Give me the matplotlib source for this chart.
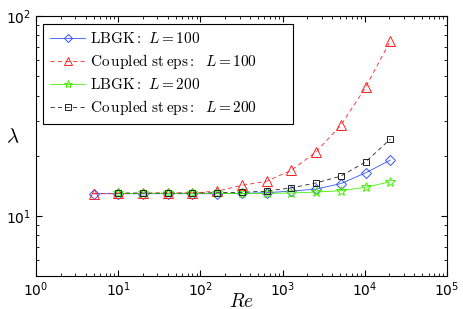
import numpy as np
import matplotlib.pyplot as plt

plt.rcParams['mathtext.fontset'] = 'cm'
plt.rcParams['font.family'] = 'DejaVu Sans'

# Reynolds numbers
re_5 = [5, 10, 20, 40, 80, 160, 320, 640, 1280, 2560, 5120, 10240, 20480]
re_10 = [10, 20, 40, 80, 160, 320, 640, 1280, 2560, 5120, 10240, 20480]

# lambda values
lbgk_100 = [12.9, 12.9, 12.9, 12.9, 12.9, 12.9, 12.95, 13.05, 13.3, 13.6, 14.5, 16.4, 19.0]
coupled_100 = [12.9, 12.95, 12.95, 13.0, 13.0, 13.3, 14.2, 14.9, 16.9, 20.9, 28.4, 43.9, 75.0]
lbgk_200 = [12.95, 12.95, 12.95, 12.95, 12.95, 12.95, 12.95, 13.0, 13.15, 13.35, 13.9, 14.8]
coupled_200 = [13.0, 13.0, 13.0, 13.0, 13.05, 13.1, 13.3, 13.8, 14.6, 15.8, 18.6, 24.2]

fig = plt.figure(figsize=(4.63, 3.09), dpi=100)
ax = fig.add_axes([0.078, 0.107, 0.887, 0.841])

ax.loglog(re_5, lbgk_100, '-', color='#3355ff', lw=0.6, marker='D', ms=5,
          mfc='none', mew=0.7, label=r'$\mathrm{LBGK:}\ L{=}100$')
ax.loglog(re_5, coupled_100, '--', color='#ff2020', lw=0.6, marker='^', ms=7,
          mfc='none', mew=0.7, dashes=(5, 4),
          label=r'$\mathrm{Co\,upled\ st\,eps:}\;\ L{=}100$')
ax.loglog(re_10, lbgk_200, '-', color='#44ee00', lw=0.6, marker='*', ms=7,
          mfc='none', mew=0.7, label=r'$\mathrm{LBGK:}\ L{=}200$')
ax.loglog(re_10, coupled_200, '--', color='#222222', lw=0.6, marker='s', ms=5,
          mfc='none', mew=0.7, dashes=(5, 4),
          label=r'$\mathrm{Co\,upled\ st\,eps:}\;\ L{=}200$')

ax.set_xlim(1, 1e5)
ax.set_ylim(5, 100)
ax.tick_params(which='both', direction='in', top=True, right=True, labelsize=10)
ax.tick_params(which='major', length=4)
ax.tick_params(which='minor', length=2)

ax.set_xlabel(r'$Re$', fontsize=14)
ax.set_ylabel(r'$\lambda$', fontsize=15, rotation=0)
ax.xaxis.set_label_coords(0.5, -0.06)
ax.yaxis.set_label_coords(-0.058, 0.50)

leg = ax.legend(loc='upper left', bbox_to_anchor=(0.017, 0.969, 0.608, 0),
                mode='expand', borderaxespad=0, fontsize=11, fancybox=False,
                framealpha=1, edgecolor='k', handlelength=2.3,
                handletextpad=0.3, labelspacing=0.4, borderpad=0.45,
                markerscale=0.85)
leg.get_frame().set_linewidth(0.8)

fig.savefig('out.png', dpi=100)
